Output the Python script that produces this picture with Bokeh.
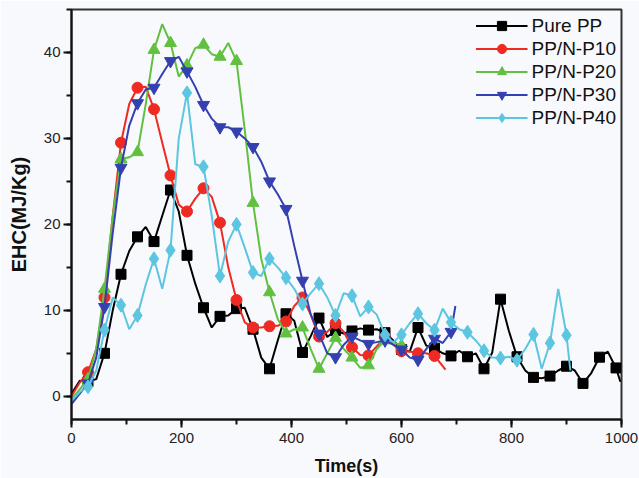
from bokeh.plotting import figure
from bokeh.models import Range1d, SingleIntervalTicker
from bokeh.embed import file_html
from bokeh.resources import INLINE

# EHC readings sampled every 15 s; markers are shown every 30 s
STEP = 15

pure_pp = [0.3, 1.8, 1.7, 2.0, 5.0, 10.0, 14.2, 16.9, 18.55, 19.7, 18.0, 21.0, 24.0,
           21.5, 16.4, 13.1, 10.3, 8.0, 9.3, 9.4, 10.2, 10.3, 7.8, 4.5, 3.2, 6.5,
           9.6, 8.8, 5.1, 7.0, 9.1, 6.9, 7.65, 7.3, 7.6, 7.9, 7.7, 7.8, 7.4, 6.5,
           5.45, 5.2, 8.0, 5.9, 5.6, 5.0, 4.7, 5.3, 4.6, 5.0, 3.2, 5.1, 11.3, 7.65,
           4.6, 3.0, 2.2, 2.1, 2.35, 3.0, 3.5, 3.0, 1.5, 2.7, 4.55, 5.2, 3.3]
pure_pp_end = (998, 1.7)

ppnp10 = [0.0, 1.6, 2.8, 5.5, 11.5, 21.0, 29.5, 34.0, 35.9, 36.0, 33.4, 29.5, 25.7,
          22.3, 21.5, 23.0, 24.2, 23.2, 20.2, 15.0, 11.2, 8.6, 8.0, 8.0, 8.15, 8.2,
          8.7, 10.5, 11.5, 9.5, 6.95, 7.5, 8.5, 7.5, 5.7, 4.8, 4.75, 5.8, 6.9, 6.0,
          5.25, 5.2, 5.0, 5.0, 4.7, 3.5]
ppnp10_end = (680, 3.1)

ppnp20 = [-0.3, 0.8, 2.0, 5.5, 12.5, 21.0, 27.6, 27.8, 28.4, 34.0, 40.3, 43.3, 41.1,
          37.2, 38.5, 40.5, 40.9, 39.8, 39.5, 41.1, 39.0, 31.0, 22.5, 16.0, 12.1,
          9.0, 7.3, 7.8, 8.0, 5.5, 3.2, 5.0, 6.8, 5.5, 4.5, 3.3, 3.6, 5.5, 6.5, 6.3,
          5.9]
ppnp20_end = (607, 5.7)

ppnp30 = [-0.9, 0.3, 1.5, 4.5, 10.4, 19.0, 26.6, 31.5, 34.1, 35.7, 35.9, 37.5, 39.0,
          39.5, 37.8, 36.0, 33.9, 32.3, 31.3, 31.3, 30.8, 30.0, 29.0, 27.3, 25.0,
          23.5, 21.8, 17.5, 13.45, 9.5, 7.3, 5.0, 4.55, 6.0, 6.95, 6.5, 6.1, 6.3,
          6.5, 6.0, 5.45, 4.5, 4.25, 5.5, 6.7, 6.2, 7.5]
ppnp30_end = (698, 10.5)

ppnp40 = [-0.5, 0.5, 1.1, 3.0, 7.7, 11.5, 10.6, 7.8, 9.4, 13.0, 16.0, 12.5, 17.0,
          30.0, 35.3, 27.0, 26.7, 21.0, 14.0, 18.0, 20.0, 17.3, 14.4, 14.0, 16.0,
          15.0, 13.8, 12.5, 10.75, 12.0, 13.1, 11.5, 9.4, 12.0, 11.7, 9.3, 10.4, 9.5,
          7.15, 6.3, 7.15, 8.5, 9.6, 8.5, 7.7, 10.2, 8.6, 7.8, 7.45, 6.5, 5.3, 4.5,
          4.45, 4.6, 4.2, 5.5, 7.2, 3.2, 6.2, 12.5, 7.1]
ppnp40_end = (907, 3.0)

labels = ["Pure PP", "PP/N-P10", "PP/N-P20", "PP/N-P30", "PP/N-P40"]
series = [pure_pp, ppnp10, ppnp20, ppnp30, ppnp40]
ends = [pure_pp_end, ppnp10_end, ppnp20_end, ppnp30_end, ppnp40_end]
colors = ["#000000", "#ee2a22", "#62c040", "#3440b0", "#5cc6e0"]
markers = ["square", "circle", "triangle", "inverted_triangle", "diamond"]
sizes = [10, 11, 12, 12, 14]

BG = "#f8f9fd"
FONT = "Liberation Sans"

p = figure(width=639, height=478, output_backend="svg", toolbar_location=None,
           x_range=Range1d(0, 1000), y_range=Range1d(-2.7, 45),
           min_border_left=71, min_border_right=18, min_border_top=9,
           min_border_bottom=59,
           background_fill_color=BG, border_fill_color=BG)
p.frame_width = 550
p.frame_height = 410

p.grid.visible = False
p.outline_line_color = "#333333"
p.outline_line_width = 2

p.xaxis.ticker = SingleIntervalTicker(interval=200, num_minor_ticks=2)
p.yaxis.ticker = SingleIntervalTicker(interval=10, num_minor_ticks=2)
for ax in (p.xaxis[0], p.yaxis[0]):
    ax.axis_line_width = 2
    ax.axis_line_color = "#111111"
    ax.major_tick_line_width = 2
    ax.minor_tick_line_width = 2
    ax.major_tick_line_color = "#111111"
    ax.minor_tick_line_color = "#111111"
    ax.major_tick_in = 0
    ax.major_tick_out = 8
    ax.minor_tick_in = 0
    ax.minor_tick_out = 5
    ax.major_label_text_font = FONT
    ax.major_label_text_font_size = "15px"
    ax.major_label_text_color = "#222222"
    ax.axis_label_text_font = FONT
    ax.axis_label_text_font_style = "bold"
    ax.axis_label_text_color = "#111111"

p.xaxis.axis_label = "Time(s)"
p.yaxis.axis_label = "EHC(MJ/Kg)"
p.xaxis.axis_label_text_font_size = "18px"
p.yaxis.axis_label_text_font_size = "20px"
p.xaxis.major_label_standoff = 5
p.yaxis.major_label_standoff = 3
p.xaxis.axis_label_standoff = 10
p.yaxis.axis_label_standoff = 11

for name, vals, end, color, marker, size in zip(labels, series, ends, colors,
                                                markers, sizes):
    t = [STEP * i for i in range(len(vals))] + [end[0]]
    v = list(vals) + [end[1]]
    p.line(t, v, line_color=color, line_width=2, legend_label=name)
    mt = [STEP * i for i in range(2, len(vals), 2)]
    mv = [vals[i] for i in range(2, len(vals), 2)]
    p.scatter(mt, mv, marker=marker, size=size, fill_color=color,
              line_color=color, legend_label=name)

lg = p.legend[0]
lg.location = "top_right"
lg.label_text_font = FONT
lg.label_text_font_size = "19px"
lg.label_text_color = "#111111"
lg.glyph_width = 52
lg.glyph_height = 23
lg.label_height = 23
lg.label_standoff = 4
lg.spacing = 0
lg.padding = 0
lg.margin = 5
lg.border_line_alpha = 0
lg.background_fill_alpha = 0

open("out.html", "w").write(file_html(p, INLINE))
